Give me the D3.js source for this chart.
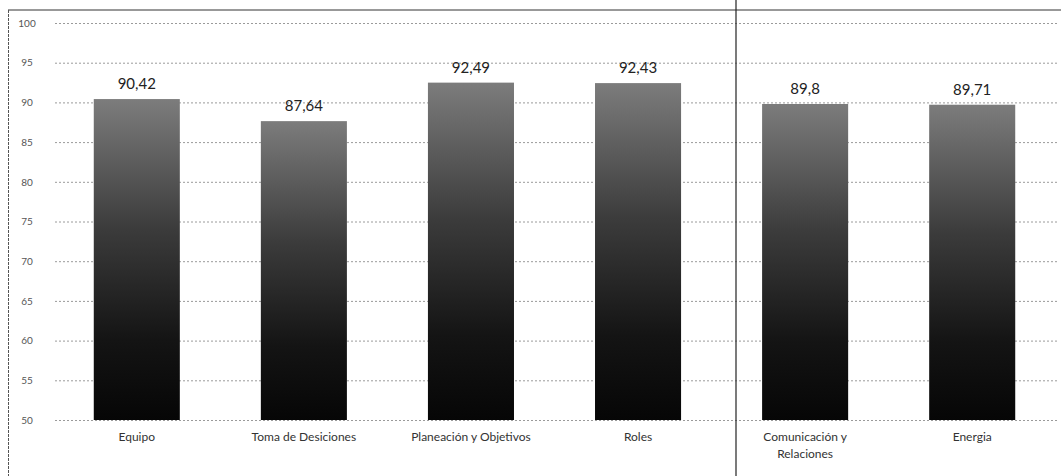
<!DOCTYPE html>
<html><head><meta charset="utf-8">
<script src="https://cdn.jsdelivr.net/npm/d3@7"></script>
<style>body{margin:0;background:#fff}svg{display:block}</style>
</head><body>
<svg id="c" width="1061" height="476"></svg>
<script>
const categories = ["Equipo", "Toma de Desiciones", "Planeación y Objetivos", "Roles", "Comunicación y\nRelaciones", "Energia"];
const values = [90.42, 87.64, 92.49, 92.43, 89.8, 89.71];
const valueLabels = ["90,42", "87,64", "92,49", "92,43", "89,8", "89,71"];
const yTicks = [50, 55, 60, 65, 70, 75, 80, 85, 90, 95, 100];

const svg = d3.select("#c");
const W = 1061, H = 476;
const m = {left: 52, right: 4, top: 23, bottom: 56};
const x = d3.scaleBand().domain(categories).range([m.left, W - m.right]).paddingInner(0.485).paddingOuter(0.25);
const y = d3.scaleLinear().domain([50, 100]).range([H - m.bottom, m.top]);

const defs = svg.append("defs");
const g = defs.append("linearGradient").attr("id", "bg").attr("x1", 0).attr("y1", 0).attr("x2", 0).attr("y2", 1);
g.append("stop").attr("offset", "0%").attr("stop-color", "#7c7c7c");
g.append("stop").attr("offset", "40%").attr("stop-color", "#3c3c3c");
g.append("stop").attr("offset", "75%").attr("stop-color", "#141414");
g.append("stop").attr("offset", "100%").attr("stop-color", "#060606");

// frame
svg.append("line").attr("x1", 8).attr("x2", W).attr("y1", 10).attr("y2", 10).attr("stroke", "#333").attr("stroke-width", 1);
svg.append("line").attr("x1", 8.5).attr("x2", 8.5).attr("y1", 10).attr("y2", H).attr("stroke", "#555").attr("stroke-dasharray", "3,1");

// grid
const yAxis = d3.axisLeft(y).tickValues(yTicks).tickSize(-(W - m.right - 55)).tickPadding(28).tickFormat(d3.format("d"));
const ga = svg.append("g").attr("transform", `translate(55,0)`).call(yAxis);
ga.select(".domain").remove();
ga.selectAll(".tick line").attr("stroke", "#9a9a9a").attr("stroke-dasharray", "2,2");
ga.selectAll(".tick text").attr("font-family", "Lato, sans-serif").attr("font-size", 10).attr("fill", "#555").attr("text-anchor", "middle");

// bars
svg.append("g").selectAll("rect").data(values).join("rect")
  .attr("x", (d, i) => x(categories[i]))
  .attr("width", x.bandwidth())
  .attr("y", d => y(d))
  .attr("height", d => y(50) - y(d))
  .attr("fill", "url(#bg)");

// value labels
svg.append("g").selectAll("text").data(values).join("text")
  .attr("x", (d, i) => x(categories[i]) + x.bandwidth() / 2)
  .attr("y", d => y(d) - 10)
  .attr("text-anchor", "middle")
  .attr("font-family", "Lato, sans-serif").attr("font-size", 15).attr("fill", "#222")
  .text((d, i) => valueLabels[i]);

// category labels
const cl = svg.append("g").selectAll("text").data(categories).join("text")
  .attr("x", d => x(d) + x.bandwidth() / 2)
  .attr("y", H - m.bottom + 21)
  .attr("text-anchor", "middle")
  .attr("font-family", "Lato, sans-serif").attr("font-size", 12).attr("fill", "#333");
cl.each(function(d) {
  const parts = d.split("\n");
  const t = d3.select(this);
  parts.forEach((p, k) => t.append("tspan").attr("x", t.attr("x")).attr("dy", k === 0 ? 0 : 17).text(p));
});

// separator
svg.append("line").attr("x1", 736).attr("x2", 736).attr("y1", 0).attr("y2", H).attr("stroke", "#222").attr("stroke-width", 1.2);
</script>
</body></html>
